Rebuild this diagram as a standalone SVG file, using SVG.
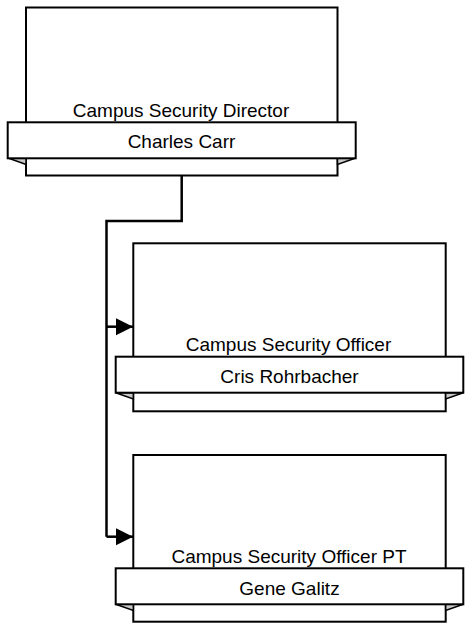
<svg xmlns="http://www.w3.org/2000/svg" width="466" height="629" viewBox="0 0 466 629">
<style>
.box{fill:#fff;stroke:#000;stroke-width:2}
.fold{fill:#c8c8c8;stroke:#000;stroke-width:1.5;stroke-linejoin:miter}
.t{font-family:"Liberation Sans",Arial,sans-serif;font-size:19px;fill:#000;text-anchor:middle}
.conn{fill:none;stroke:#000;stroke-width:2.5}
</style>
<defs>
<marker id="arr" markerUnits="userSpaceOnUse" markerWidth="18" markerHeight="18" refX="17" refY="8.5" orient="auto">
<path d="M0,0 L17,8.5 L0,17 Z" fill="#000"/>
</marker>
</defs>
<g id="connectors">
<path class="conn" d="M181.7,175.5 V221 H106.5 V536.7"/>
<path class="conn" d="M106.5,326.7 H133" marker-end="url(#arr)"/>
<path class="conn" d="M106.5,536.7 H133" marker-end="url(#arr)"/>
</g>
<g id="node-director">
<rect class="box" x="26" y="7.5" width="311.5" height="168"/>
<polygon class="fold" points="8,158 26,158 26,164.5"/>
<polygon class="fold" points="355.7,158 337.5,158 337.5,164.5"/>
<rect class="box" x="7.7" y="122.3" width="348" height="36"/>
<text class="t" x="181" y="116.5">Campus Security Director</text>
<text class="t" x="181.5" y="148">Charles Carr</text>
</g>
<g id="node-officer">
<rect class="box" x="133.3" y="243.3" width="312.4" height="168"/>
<polygon class="fold" points="115.7,392.7 133.3,392.7 133.3,399"/>
<polygon class="fold" points="463.3,392.7 445.7,392.7 445.7,399"/>
<rect class="box" x="115.7" y="356.7" width="347.6" height="36"/>
<text class="t" x="288.5" y="350.8">Campus Security Officer</text>
<text class="t" x="289.5" y="382.7">Cris Rohrbacher</text>
</g>
<g id="node-officer-pt">
<rect class="box" x="133.3" y="455" width="312.4" height="166.7"/>
<polygon class="fold" points="115.7,604.3 133.3,604.3 133.3,610.5"/>
<polygon class="fold" points="463.3,604.3 445.7,604.3 445.7,610.5"/>
<rect class="box" x="115.7" y="568.3" width="347.6" height="36"/>
<text class="t" x="289" y="562.8">Campus Security Officer PT</text>
<text class="t" x="289.5" y="594.5">Gene Galitz</text>
</g>
</svg>
